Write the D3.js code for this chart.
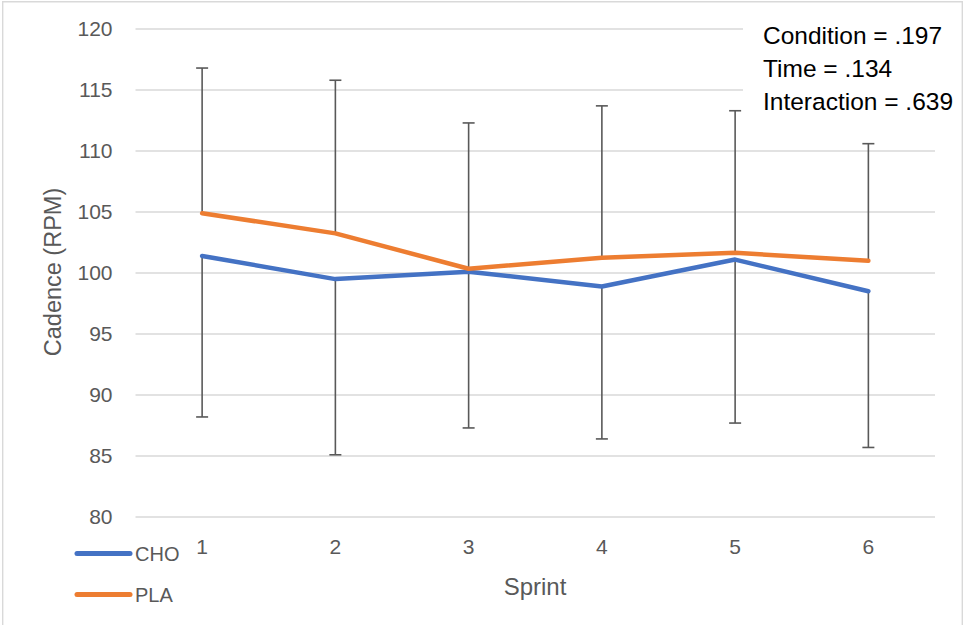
<!DOCTYPE html>
<html>
<head>
<meta charset="utf-8">
<script src="https://cdn.jsdelivr.net/npm/d3@7"></script>
<style>
  html, body { margin: 0; padding: 0; background: #fff; }
  svg { display: block; }
</style>
</head>
<body>
<script>
// Sprint cadence, mean with SD error bars
const sprints = ["1", "2", "3", "4", "5", "6"];
const choMean = [101.4, 99.5, 100.1, 98.9, 101.1, 98.5];
const choSD   = [13.2, 14.4, 12.8, 12.5, 13.4, 12.8];
const plaMean = [104.9, 103.25, 100.35, 101.25, 101.65, 101.0];
const plaSD   = [11.9, 12.55, 11.95, 12.45, 11.65, 9.6];
const yTicks  = [80, 85, 90, 95, 100, 105, 110, 115, 120];
const seriesNames = ["CHO", "PLA"];
const statsLines = ["Condition = .197", "Time = .134", "Interaction = .639"];

const W = 964, H = 625;
const colors = { CHO: "#4472C4", PLA: "#ED7D31" };
const textGrey = "#595959";
const font = "'Liberation Sans', Arial, sans-serif";

const svg = d3.select("body").append("svg").attr("width", W).attr("height", H);

// chart frame (open at the bottom)
svg.append("path")
  .attr("d", "M2.7,625 V1.7 H962.3 V625")
  .attr("fill", "none").attr("stroke", "#D9D9D9").attr("stroke-width", 1.4);

const plot = { left: 135.5, right: 935, top: 29, bottom: 517 };

const x = d3.scaleBand().domain(sprints).range([plot.left, plot.right]);
const xc = d => x(d) + x.bandwidth() / 2;
const y = d3.scaleLinear().domain([80, 120]).range([plot.bottom, plot.top]);

// horizontal gridlines
svg.append("g").selectAll("line").data(yTicks).join("line")
  .attr("x1", plot.left).attr("x2", plot.right)
  .attr("y1", d => y(d)).attr("y2", d => y(d))
  .attr("stroke", "#D9D9D9").attr("stroke-width", 1.3);

// y axis labels
const yAxis = d3.axisLeft(y).tickValues(yTicks).tickSize(0).tickPadding(0);
const gy = svg.append("g").attr("transform", `translate(${plot.left - 23},0)`).call(yAxis);
gy.select(".domain").remove();
gy.selectAll("text").attr("fill", textGrey).attr("font-family", font).attr("font-size", 21);

// x axis labels
const xAxis = d3.axisBottom(x).tickSize(0).tickPadding(0);
const gx = svg.append("g").attr("transform", `translate(0,${plot.bottom + 22})`).call(xAxis);
gx.select(".domain").remove();
gx.selectAll("text").attr("fill", textGrey).attr("font-family", font).attr("font-size", 21);

// axis titles
svg.append("text")
  .attr("transform", `translate(61,272) rotate(-90)`)
  .attr("text-anchor", "middle").attr("fill", textGrey)
  .attr("font-family", font).attr("font-size", 23.5)
  .text("Cadence (RPM)");
svg.append("text")
  .attr("x", 535).attr("y", 595)
  .attr("text-anchor", "middle").attr("fill", textGrey)
  .attr("font-family", font).attr("font-size", 24)
  .text("Sprint");

// error bars: CHO downward, PLA upward
const bars = sprints.map((s, i) => ({
  s, lo: choMean[i] - choSD[i], hi: plaMean[i] + plaSD[i],
  cho: choMean[i], pla: plaMean[i]
}));
const eb = svg.append("g").attr("stroke", textGrey).attr("stroke-width", 1.6);
eb.selectAll(".up").data(bars).join("line")
  .attr("x1", d => xc(d.s)).attr("x2", d => xc(d.s))
  .attr("y1", d => y(d.pla)).attr("y2", d => y(d.hi));
eb.selectAll(".down").data(bars).join("line")
  .attr("x1", d => xc(d.s)).attr("x2", d => xc(d.s))
  .attr("y1", d => y(d.cho)).attr("y2", d => y(d.lo));
eb.selectAll(".capHi").data(bars).join("line")
  .attr("x1", d => xc(d.s) - 6).attr("x2", d => xc(d.s) + 6)
  .attr("y1", d => y(d.hi)).attr("y2", d => y(d.hi));
eb.selectAll(".capLo").data(bars).join("line")
  .attr("x1", d => xc(d.s) - 6).attr("x2", d => xc(d.s) + 6)
  .attr("y1", d => y(d.lo)).attr("y2", d => y(d.lo));

// mean lines
const line = d3.line().x((d, i) => xc(sprints[i])).y(d => y(d));
[["CHO", choMean], ["PLA", plaMean]].forEach(([name, vals]) => {
  svg.append("path").datum(vals)
    .attr("d", line)
    .attr("fill", "none").attr("stroke", colors[name])
    .attr("stroke-width", 4.5).attr("stroke-linejoin", "round").attr("stroke-linecap", "round");
});

// legend
const legend = svg.append("g");
seriesNames.forEach((name, i) => {
  const ly = 553.5 + i * 41;
  legend.append("line")
    .attr("x1", 77).attr("x2", 130).attr("y1", ly).attr("y2", ly)
    .attr("stroke", colors[name]).attr("stroke-width", 5).attr("stroke-linecap", "round");
  legend.append("text")
    .attr("x", 135).attr("y", ly + 7.5)
    .attr("fill", textGrey).attr("font-family", font).attr("font-size", 20)
    .text(name);
});

// statistics text box
svg.append("rect")
  .attr("x", 743).attr("y", 4).attr("width", 214).attr("height", 109)
  .attr("fill", "#fff");
svg.append("g").selectAll("text").data(statsLines).join("text")
  .attr("x", 763).attr("y", (d, i) => 44 + i * 33)
  .attr("fill", "#000").attr("font-family", font).attr("font-size", 24.5)
  .text(d => d);
</script>
</body>
</html>
